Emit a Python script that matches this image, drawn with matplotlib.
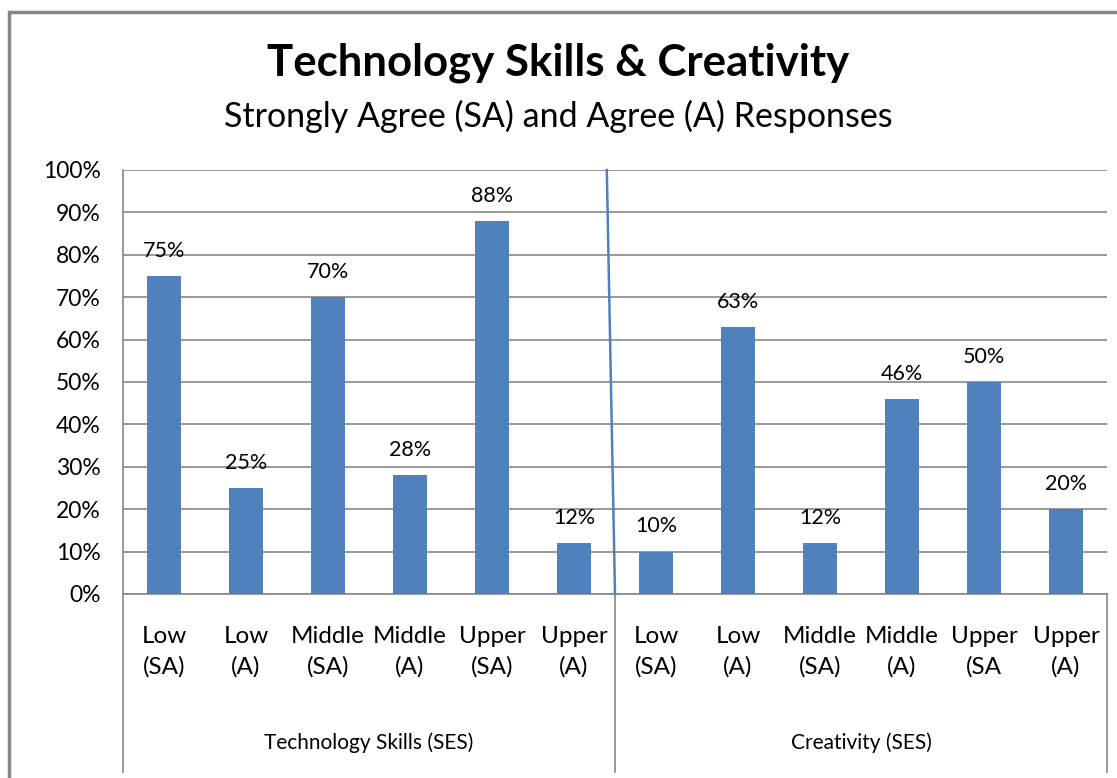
import matplotlib
matplotlib.use("Agg")
import matplotlib.pyplot as plt
from matplotlib.lines import Line2D
from matplotlib.patches import Rectangle
import matplotlib.transforms as mtransforms

plt.rcParams['font.family'] = ['Lato', 'DejaVu Sans']

title = "Technology Skills & Creativity"
subtitle = "Strongly Agree (SA) and Agree (A) Responses"
groups = ["Technology Skills (SES)", "Creativity (SES)"]
tech_labels = ["Low\n(SA)", "Low\n(A)", "Middle\n(SA)", "Middle\n(A)", "Upper\n(SA)", "Upper\n(A)"]
creat_labels = ["Low\n(SA)", "Low\n(A)", "Middle\n(SA)", "Middle\n(A)", "Upper\n(SA", "Upper\n(A)"]
tech_values = [75, 25, 70, 28, 88, 12]
creat_values = [10, 63, 12, 46, 50, 20]
yticks = [0, 10, 20, 30, 40, 50, 60, 70, 80, 90, 100]

W, H = 1117, 778
fig = plt.figure(figsize=(W / 100, H / 100), dpi=100)
fig.patch.set_facecolor('white')

# outer chart frame (clipped at right/bottom like the reference)
fig.add_artist(Rectangle((9 / W, -0.05), 1.2, 1 - 12 / H + 0.05, transform=fig.transFigure,
                         fill=False, edgecolor='#878787', linewidth=2.5))

ax = fig.add_axes([123 / W, 1 - 594 / H, 984 / W, 424 / H])
labels = tech_labels + creat_labels
values = tech_values + creat_values
x = list(range(len(values)))
bar_color = '#4F81BD'
ax.bar(x, values, width=0.42, color=bar_color, zorder=3)
ax.set_xlim(-0.5, len(values) - 0.5)
ax.set_ylim(0, 100)
ax.set_yticks(yticks)
ax.set_yticklabels([f"{v}%" for v in yticks], fontsize=16.5)
ax.tick_params(axis='y', length=0, pad=16)
ax.set_xticks([])
ax.grid(axis='y', color='#878787', linewidth=1.2, zorder=0)
for s in ['top', 'right']:
    ax.spines[s].set_visible(False)
ax.spines['left'].set_color('#878787')
ax.spines['bottom'].set_color('#878787')
ax.spines['left'].set_linewidth(1.2)
ax.spines['bottom'].set_linewidth(1.2)

for xi, v in zip(x, values):
    ax.annotate(f"{v}%", (xi, v), xytext=(0, 11), textcoords='offset points',
                ha='center', va='bottom', fontsize=15.5)

# blended transform: data x, figure y
bt = mtransforms.blended_transform_factory(ax.transData, fig.transFigure)
for xi, lab in zip(x, labels):
    ax.text(xi, 1 - 652 / H, lab, transform=bt, ha='center', va='center',
            fontsize=17.5, linespacing=1.5)

n1 = len(tech_values)
group_centers = [(n1 - 1) / 2, n1 + (len(creat_values) - 1) / 2]
for gc, g in zip(group_centers, groups):
    ax.text(gc, 1 - 743 / H, g, transform=bt, ha='center', va='center', fontsize=15)

# vertical category separators below the axis
for xb in [-0.5, n1 - 0.5, len(values) - 0.5]:
    ax.add_line(Line2D([xb, xb], [1 - 594 / H, 1 - 772 / H], transform=bt,
                       color='#878787', linewidth=1.2, clip_on=False))

# slanted blue divider line between the two groups
ax.add_line(Line2D([n1 - 0.5 - 0.1, n1 - 0.5], [100, 0], color=bar_color,
                   linewidth=1.8, zorder=4, clip_on=False))

fig.text(0.5, 1 - 63 / H, title, ha='center', va='center', fontsize=31.5, fontweight='bold')
fig.text(0.5, 1 - 116 / H, subtitle, ha='center', va='center', fontsize=24.5)

fig.savefig("out.png", dpi=100)
